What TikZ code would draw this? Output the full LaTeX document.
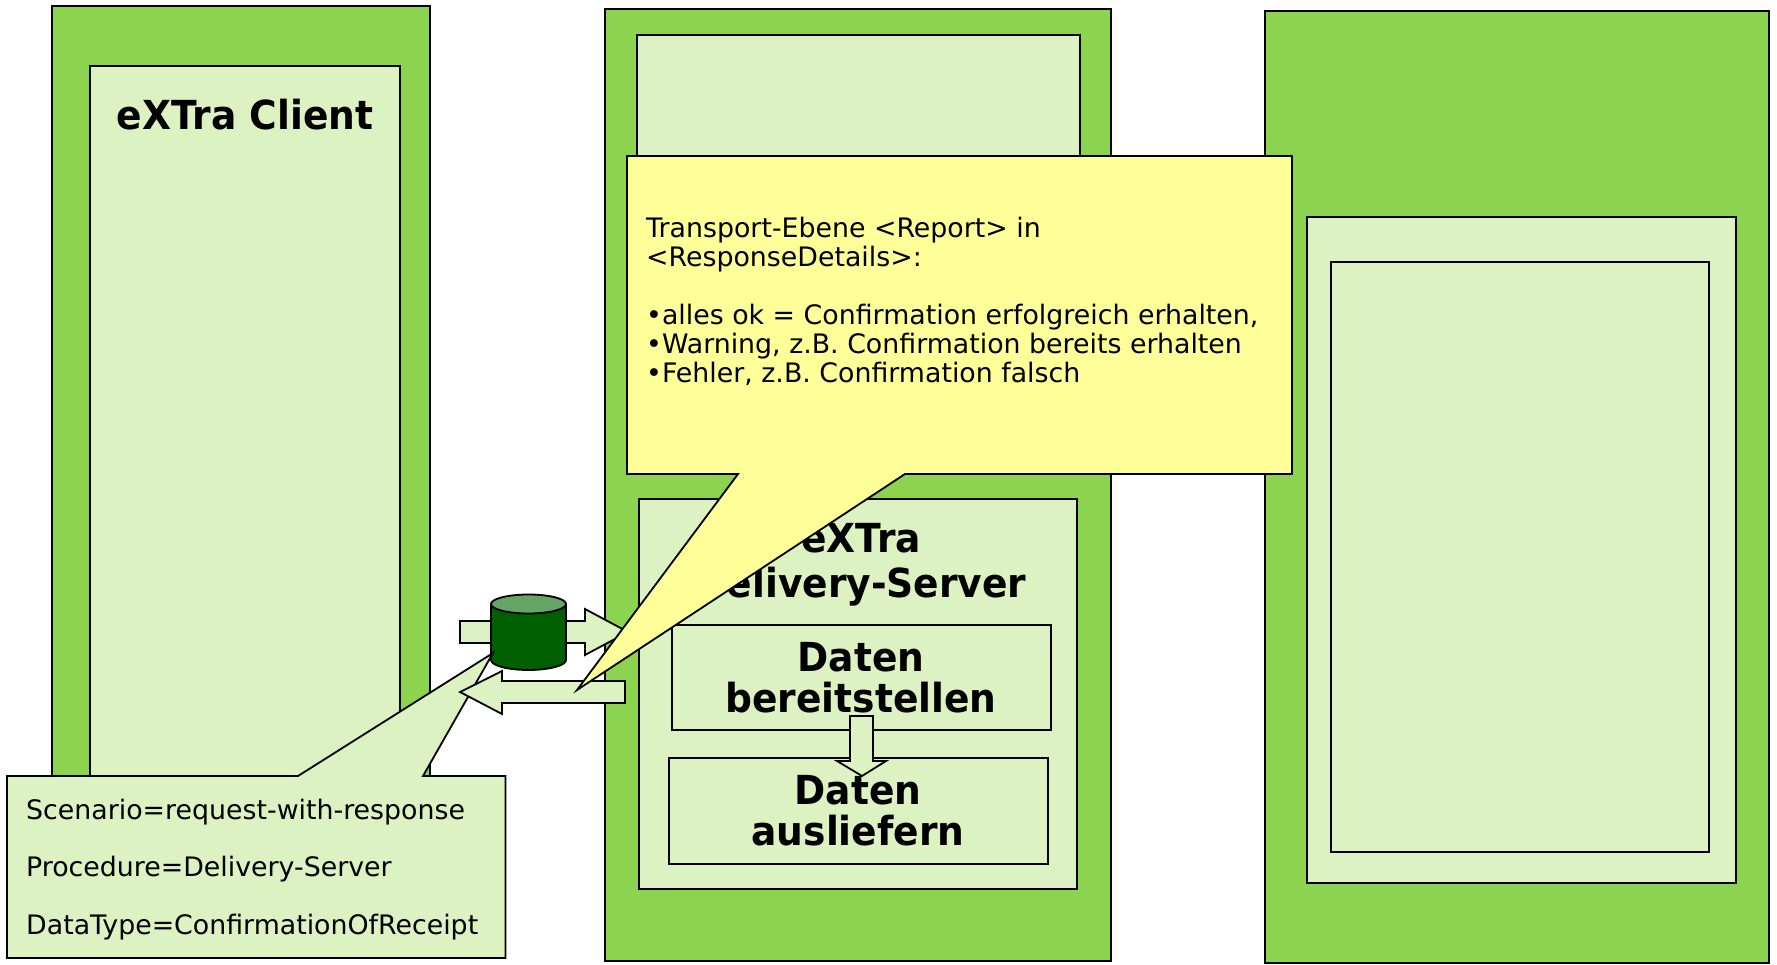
\documentclass[tikz,border=0pt]{standalone}
\usepackage{fontspec}
\setmainfont[BoldFeatures={FakeStretch=0.94}]{DejaVu Sans}
\tikzset{
  x=1pt,y=-1pt,
  panel/.style={draw=black,line width=1.8pt,fill=panelgreen},
  pale/.style={draw=black,line width=1.8pt,fill=palegreen},
  yellowbox/.style={draw=black,line width=1.8pt,fill=calloutyellow,line join=miter},
  title/.style={font=\fontsize{40}{45}\selectfont\bfseries,align=center,inner sep=0pt,text=black},
  boxtitle/.style={font=\fontsize{40}{41}\selectfont\bfseries,align=center,inner sep=0pt,text=black},
  bodytext/.style={font=\fontsize{26.8}{29}\selectfont,align=left,inner sep=0pt,anchor=north west,text=black},
  notetext/.style={font=\fontsize{26.8}{29}\selectfont,inner sep=0pt,anchor=base west,text=black},
}
\definecolor{panelgreen}{HTML}{8CD350}
\definecolor{palegreen}{HTML}{DCF2C2}
\definecolor{calloutyellow}{HTML}{FFFF99}
\definecolor{cyldark}{HTML}{006000}
\definecolor{cyltop}{HTML}{66A566}
\begin{document}
\begin{tikzpicture}
\useasboundingbox (0,0) rectangle (1777,965);
% outer panels
\draw[panel] (52,6) rectangle (430,958);
\draw[panel] (605,9) rectangle (1111,961);
\draw[panel] (1265,11) rectangle (1769,963);
% left
\draw[pale] (90,66) rectangle (400,950);
\node[title] (client) at (245,115) {eXTra Client};
% middle
\draw[pale] (637,35) rectangle (1080,300);
\draw[pale] (639,499) rectangle (1077,889);
\node[title] (server) at (861,564.5) {eXTra\\Delivery-Server};
\draw[pale] (672,625) rectangle (1051,730);
\node[boxtitle] (prep) at (861,678) {Daten\\bereitstellen};
\draw[pale] (669,758) rectangle (1048,864);
\node[boxtitle] (deliv) at (858,811) {Daten\\ausliefern};
\draw[pale,line join=miter] (850,716) -- (873,716) -- (873,761) -- (886,761) -- (862,776) -- (837,761) -- (850,761) -- cycle;
% right
\draw[pale] (1307,217) rectangle (1736,883);
\draw[pale] (1331,262) rectangle (1709,852);
% right arrow and cylinder
\draw[pale,line join=miter] (460,621) -- (585,621) -- (585,609) -- (628,632) -- (585,655) -- (585,643) -- (460,643) -- cycle;
\draw[draw=black,line width=1.8pt,fill=cyldark] (491,604) -- (491,660) arc[start angle=180,end angle=0,x radius=37.5,y radius=10] -- (566,604) -- cycle;
\draw[draw=black,line width=1.8pt,fill=cyltop] (528.5,604) ellipse[x radius=37.5,y radius=9.5];
% green note
\draw[pale,line join=miter] (7,776) -- (298,776) -- (493,653) -- (423,776) -- (505.5,776) -- (505.5,958) -- (7,958) -- cycle;
\node[notetext] (n1) at (26,819) {Scenario=request-with-response};
\node[notetext] (n2) at (26,876) {Procedure=Delivery-Server};
\node[notetext] (n3) at (26,934) {DataType=ConfirmationOfReceipt};
% left arrow
\draw[pale,line join=miter] (625,681) -- (502,681) -- (502,671) -- (460,692) -- (502,714) -- (502,703) -- (625,703) -- cycle;
% yellow note
\draw[yellowbox] (627,156) -- (1292,156) -- (1292,474) -- (905,474) -- (577,690) -- (738,474) -- (627,474) -- cycle;
\node[bodytext] (report) at (646,217) {Transport-Ebene <Report> in\\<ResponseDetails>:\\[29pt]•alles ok = Confirmation erfolgreich erhalten,\\•Warning, z.B. Confirmation bereits erhalten\\•Fehler, z.B. Confirmation falsch};
\end{tikzpicture}
\end{document}
